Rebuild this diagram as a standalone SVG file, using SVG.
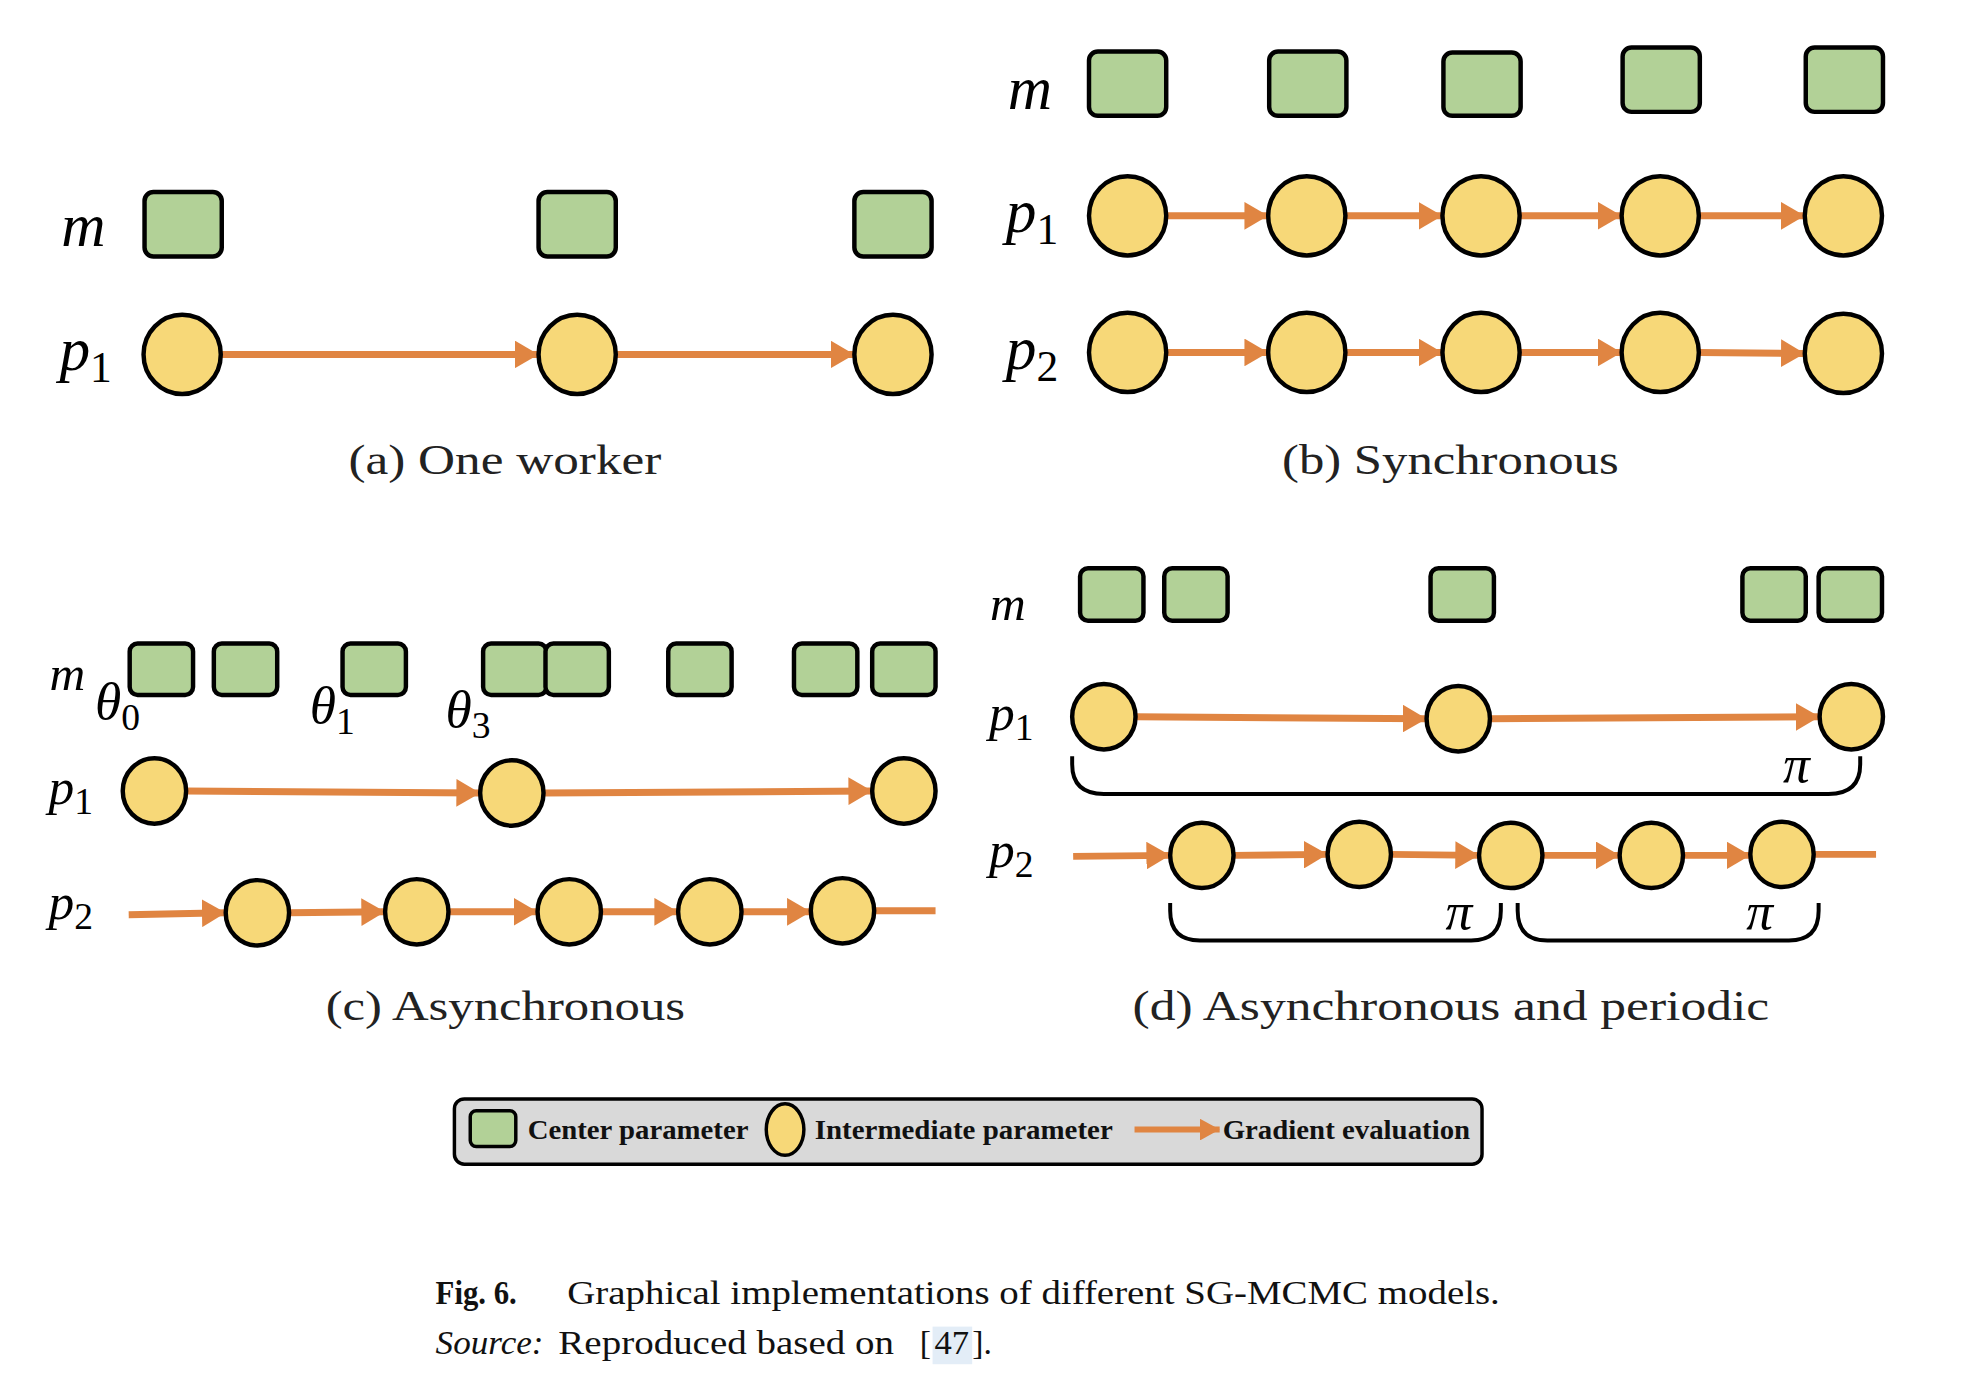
<svg xmlns="http://www.w3.org/2000/svg" width="1966" height="1390" viewBox="0 0 1966 1390">
<style>
.sq{fill:#b2d197;stroke:#000;stroke-width:4.5}
.ci{fill:#f7d878;stroke:#000;stroke-width:4.5}
.ar{stroke:#e08542;stroke-width:7;fill:none}
.br{stroke:#000;stroke-width:4;fill:none}
.lab{font-family:"Liberation Serif","DejaVu Serif",serif;font-style:italic;font-size:62px;fill:#000}
.sub{font-style:normal;font-size:44px}
.cap{font-family:"Liberation Serif","DejaVu Serif",serif;font-size:42px;fill:#222}
.leg{font-family:"Liberation Serif","DejaVu Serif",serif;font-weight:bold;font-size:28px;fill:#111}
.fig{font-family:"Liberation Serif","DejaVu Serif",serif;font-size:34px;fill:#111}
</style>
<defs>
<marker id="ah" markerUnits="userSpaceOnUse" markerWidth="26" markerHeight="28" refX="24" refY="14" orient="auto">
<path d="M0,0 L24,14 L0,28 Z" fill="#e08542"/>
</marker>
<marker id="ahs" markerUnits="userSpaceOnUse" markerWidth="22" markerHeight="22" refX="20" refY="11" orient="auto">
<path d="M0,0 L20,11 L0,22 Z" fill="#e08542"/>
</marker>
</defs>
<rect width="1966" height="1390" fill="#fff"/>
<g transform="scale(0.99)">

<!-- Panel a -->
<g id="panel-a-labels">
<text class="lab" x="62" y="249">m</text>
<text class="lab" x="60" y="374">p<tspan class="sub" dy="12">1</tspan></text>
<text class="cap" x="352" y="479" textLength="316" lengthAdjust="spacingAndGlyphs">(a) One worker</text>
</g>
<g id="connectors-a">
<line class="ar" x1="222" y1="358" x2="544" y2="358" marker-end="url(#ah)"/>
<line class="ar" x1="621" y1="358" x2="863" y2="358" marker-end="url(#ah)"/>
</g>
<g id="a-m1"><rect class="sq" x="146" y="194" width="78" height="65" rx="9"/></g>
<g id="a-m2"><rect class="sq" x="544" y="194" width="78" height="65" rx="9"/></g>
<g id="a-m3"><rect class="sq" x="863" y="194" width="78" height="65" rx="9"/></g>
<g id="a-p1"><ellipse class="ci" cx="184" cy="358" rx="39" ry="40"/></g>
<g id="a-p2"><ellipse class="ci" cx="583" cy="358" rx="39" ry="40"/></g>
<g id="a-p3"><ellipse class="ci" cx="902" cy="358" rx="39" ry="40"/></g>

<!-- Panel b -->
<g id="panel-b-labels">
<text class="lab" x="1018" y="110">m</text>
<text class="lab" x="1016" y="234">p<tspan class="sub" dy="12">1</tspan></text>
<text class="lab" x="1016" y="373">p<tspan class="sub" dy="12">2</tspan></text>
<text class="cap" x="1295" y="479" textLength="340" lengthAdjust="spacingAndGlyphs">(b) Synchronous</text>
</g>
<g id="connectors-b">
<line class="ar" x1="1178" y1="218" x2="1281" y2="218" marker-end="url(#ah)"/>
<line class="ar" x1="1359" y1="218" x2="1457" y2="218" marker-end="url(#ah)"/>
<line class="ar" x1="1535" y1="218" x2="1638" y2="218" marker-end="url(#ah)"/>
<line class="ar" x1="1716" y1="218" x2="1823" y2="218" marker-end="url(#ah)"/>
<line class="ar" x1="1178" y1="356" x2="1281" y2="356" marker-end="url(#ah)"/>
<line class="ar" x1="1359" y1="356" x2="1457" y2="356" marker-end="url(#ah)"/>
<line class="ar" x1="1535" y1="356" x2="1638" y2="356" marker-end="url(#ah)"/>
<line class="ar" x1="1716" y1="356" x2="1823" y2="357" marker-end="url(#ah)"/>
</g>
<g id="b-m1"><rect class="sq" x="1100" y="52" width="78" height="65" rx="9"/></g>
<g id="b-m2"><rect class="sq" x="1282" y="52" width="78" height="65" rx="9"/></g>
<g id="b-m3"><rect class="sq" x="1458" y="53" width="78" height="64" rx="9"/></g>
<g id="b-m4"><rect class="sq" x="1639" y="48" width="78" height="65" rx="9"/></g>
<g id="b-m5"><rect class="sq" x="1824" y="48" width="78" height="65" rx="9"/></g>
<g id="b-p1-1"><ellipse class="ci" cx="1139" cy="218" rx="39" ry="40"/></g>
<g id="b-p1-2"><ellipse class="ci" cx="1320" cy="218" rx="39" ry="40"/></g>
<g id="b-p1-3"><ellipse class="ci" cx="1496" cy="218" rx="39" ry="40"/></g>
<g id="b-p1-4"><ellipse class="ci" cx="1677" cy="218" rx="39" ry="40"/></g>
<g id="b-p1-5"><ellipse class="ci" cx="1862" cy="218" rx="39" ry="40"/></g>
<g id="b-p2-1"><ellipse class="ci" cx="1139" cy="356" rx="39" ry="40"/></g>
<g id="b-p2-2"><ellipse class="ci" cx="1320" cy="356" rx="39" ry="40"/></g>
<g id="b-p2-3"><ellipse class="ci" cx="1496" cy="356" rx="39" ry="40"/></g>
<g id="b-p2-4"><ellipse class="ci" cx="1677" cy="356" rx="39" ry="40"/></g>
<g id="b-p2-5"><ellipse class="ci" cx="1862" cy="357" rx="39" ry="40"/></g>

<!-- Panel c -->
<g id="panel-c-labels">
<text class="lab" x="50" y="697" style="font-size:50px">m</text>
<text class="lab" x="96" y="726" style="font-size:54px">θ<tspan class="sub" dy="11" style="font-size:38px">0</tspan></text>
<text class="lab" x="313" y="730" style="font-size:54px">θ<tspan class="sub" dy="11" style="font-size:38px">1</tspan></text>
<text class="lab" x="450" y="734" style="font-size:54px">θ<tspan class="sub" dy="11" style="font-size:38px">3</tspan></text>
<text class="lab" x="49" y="812" style="font-size:52px">p<tspan class="sub" dy="10" style="font-size:38px">1</tspan></text>
<text class="lab" x="49" y="928" style="font-size:52px">p<tspan class="sub" dy="10" style="font-size:38px">2</tspan></text>
<text class="cap" x="329" y="1030" textLength="363" lengthAdjust="spacingAndGlyphs">(c) Asynchronous</text>
</g>
<g id="connectors-c">
<line class="ar" x1="188" y1="799" x2="485" y2="801" marker-end="url(#ah)"/>
<line class="ar" x1="549" y1="801" x2="881" y2="799" marker-end="url(#ah)"/>
<line class="ar" x1="130" y1="924" x2="228" y2="922" marker-end="url(#ah)"/>
<line class="ar" x1="292" y1="922" x2="389" y2="921" marker-end="url(#ah)"/>
<line class="ar" x1="453" y1="921" x2="543" y2="921" marker-end="url(#ah)"/>
<line class="ar" x1="607" y1="921" x2="685" y2="921" marker-end="url(#ah)"/>
<line class="ar" x1="749" y1="921" x2="819" y2="921" marker-end="url(#ah)"/>
<line class="ar" x1="883" y1="920" x2="945" y2="920"/>
</g>
<g id="c-m1"><rect class="sq" x="131" y="650" width="64" height="52" rx="8"/></g>
<g id="c-m2"><rect class="sq" x="216" y="650" width="64" height="52" rx="8"/></g>
<g id="c-m3"><rect class="sq" x="346" y="650" width="64" height="52" rx="8"/></g>
<g id="c-m4"><rect class="sq" x="488" y="650" width="64" height="52" rx="8"/></g>
<g id="c-m5"><rect class="sq" x="551" y="650" width="64" height="52" rx="8"/></g>
<g id="c-m6"><rect class="sq" x="675" y="650" width="64" height="52" rx="8"/></g>
<g id="c-m7"><rect class="sq" x="802" y="650" width="64" height="52" rx="8"/></g>
<g id="c-m8"><rect class="sq" x="881" y="650" width="64" height="52" rx="8"/></g>
<g id="c-p1-1"><ellipse class="ci" cx="156" cy="799" rx="32" ry="33"/></g>
<g id="c-p1-2"><ellipse class="ci" cx="517" cy="801" rx="32" ry="33"/></g>
<g id="c-p1-3"><ellipse class="ci" cx="913" cy="799" rx="32" ry="33"/></g>
<g id="c-p2-1"><ellipse class="ci" cx="260" cy="922" rx="32" ry="33"/></g>
<g id="c-p2-2"><ellipse class="ci" cx="421" cy="921" rx="32" ry="33"/></g>
<g id="c-p2-3"><ellipse class="ci" cx="575" cy="921" rx="32" ry="33"/></g>
<g id="c-p2-4"><ellipse class="ci" cx="717" cy="921" rx="32" ry="33"/></g>
<g id="c-p2-5"><ellipse class="ci" cx="851" cy="920" rx="32" ry="33"/></g>

<!-- Panel d -->
<g id="panel-d-labels">
<text class="lab" x="1000" y="626" style="font-size:50px">m</text>
<text class="lab" x="999" y="737" style="font-size:52px">p<tspan class="sub" dy="10" style="font-size:38px">1</tspan></text>
<text class="lab" x="999" y="876" style="font-size:52px">p<tspan class="sub" dy="10" style="font-size:38px">2</tspan></text>
<text class="lab" x="1801" y="790" style="font-size:54px">π</text>
<text class="lab" x="1460" y="938" style="font-size:54px">π</text>
<text class="lab" x="1764" y="938" style="font-size:54px">π</text>
<text class="cap" x="1144" y="1030" textLength="643" lengthAdjust="spacingAndGlyphs">(d) Asynchronous and periodic</text>
</g>
<g id="connectors-d">
<line class="ar" x1="1147" y1="724" x2="1441" y2="726" marker-end="url(#ah)"/>
<line class="ar" x1="1505" y1="726" x2="1838" y2="724" marker-end="url(#ah)"/>
<line class="ar" x1="1084" y1="865" x2="1182" y2="864" marker-end="url(#ah)"/>
<line class="ar" x1="1246" y1="864" x2="1341" y2="863" marker-end="url(#ah)"/>
<line class="ar" x1="1405" y1="863" x2="1494" y2="864" marker-end="url(#ah)"/>
<line class="ar" x1="1559" y1="864" x2="1636" y2="864" marker-end="url(#ah)"/>
<line class="ar" x1="1700" y1="864" x2="1768" y2="864" marker-end="url(#ah)"/>
<line class="ar" x1="1832" y1="863" x2="1895" y2="863"/>
<path class="br" d="M1083,764 L1083,772 Q1083,802 1115,802 L1847,802 Q1879,802 1879,772 L1879,764"/>
<path class="br" d="M1182,912 L1182,920 Q1182,950 1212,950 L1486,950 Q1516,950 1516,920 L1516,912"/>
<path class="br" d="M1533,912 L1533,920 Q1533,950 1563,950 L1807,950 Q1837,950 1837,920 L1837,912"/>
</g>
<g id="d-m1"><rect class="sq" x="1091" y="574" width="64" height="53" rx="8"/></g>
<g id="d-m2"><rect class="sq" x="1176" y="574" width="64" height="53" rx="8"/></g>
<g id="d-m3"><rect class="sq" x="1445" y="574" width="64" height="53" rx="8"/></g>
<g id="d-m4"><rect class="sq" x="1760" y="574" width="64" height="53" rx="8"/></g>
<g id="d-m5"><rect class="sq" x="1837" y="574" width="64" height="53" rx="8"/></g>
<g id="d-p1-1"><ellipse class="ci" cx="1115" cy="724" rx="32" ry="33"/></g>
<g id="d-p1-2"><ellipse class="ci" cx="1473" cy="726" rx="32" ry="33"/></g>
<g id="d-p1-3"><ellipse class="ci" cx="1870" cy="724" rx="32" ry="33"/></g>
<g id="d-p2-1"><ellipse class="ci" cx="1214" cy="864" rx="32" ry="33"/></g>
<g id="d-p2-2"><ellipse class="ci" cx="1373" cy="863" rx="32" ry="33"/></g>
<g id="d-p2-3"><ellipse class="ci" cx="1526" cy="864" rx="32" ry="33"/></g>
<g id="d-p2-4"><ellipse class="ci" cx="1668" cy="864" rx="32" ry="33"/></g>
<g id="d-p2-5"><ellipse class="ci" cx="1800" cy="863" rx="32" ry="33"/></g>

<!-- Legend -->
<g id="legend">
<rect x="459" y="1110" width="1038" height="66" rx="10" fill="#d9d9d9" stroke="#000" stroke-width="3.5"/>
<rect class="sq" x="475" y="1122" width="46" height="36" rx="6" style="stroke-width:3.5"/>
<text class="leg" x="533" y="1151" textLength="223" lengthAdjust="spacingAndGlyphs">Center parameter</text>
<ellipse class="ci" cx="793" cy="1141" rx="19" ry="26" style="stroke-width:3.5"/>
<text class="leg" x="823" y="1151" textLength="301" lengthAdjust="spacingAndGlyphs">Intermediate parameter</text>
<line class="ar" x1="1146" y1="1141" x2="1232" y2="1141" marker-end="url(#ahs)" style="stroke-width:6"/>
<text class="leg" x="1235" y="1151" textLength="250" lengthAdjust="spacingAndGlyphs">Gradient evaluation</text>
</g>

<!-- Figure caption -->
<g id="caption">
<text class="fig" x="440" y="1317" font-weight="bold" textLength="82" lengthAdjust="spacingAndGlyphs">Fig. 6.</text>
<text class="fig" x="573" y="1317" textLength="942" lengthAdjust="spacingAndGlyphs">Graphical implementations of different SG-MCMC models.</text>
<rect x="942" y="1340" width="40" height="38" fill="#e3edf7"/>
<text class="fig" x="440" y="1368" font-style="italic" textLength="109" lengthAdjust="spacingAndGlyphs">Source:</text>
<text class="fig" x="564" y="1368" textLength="339" lengthAdjust="spacingAndGlyphs">Reproduced based on</text>
<text class="fig" x="929" y="1368">[</text>
<text class="fig" x="944" y="1368" fill="#7aa6d4" textLength="35" lengthAdjust="spacingAndGlyphs">47</text>
<text class="fig" x="982" y="1368">].</text>
</g>
</g>
</svg>
